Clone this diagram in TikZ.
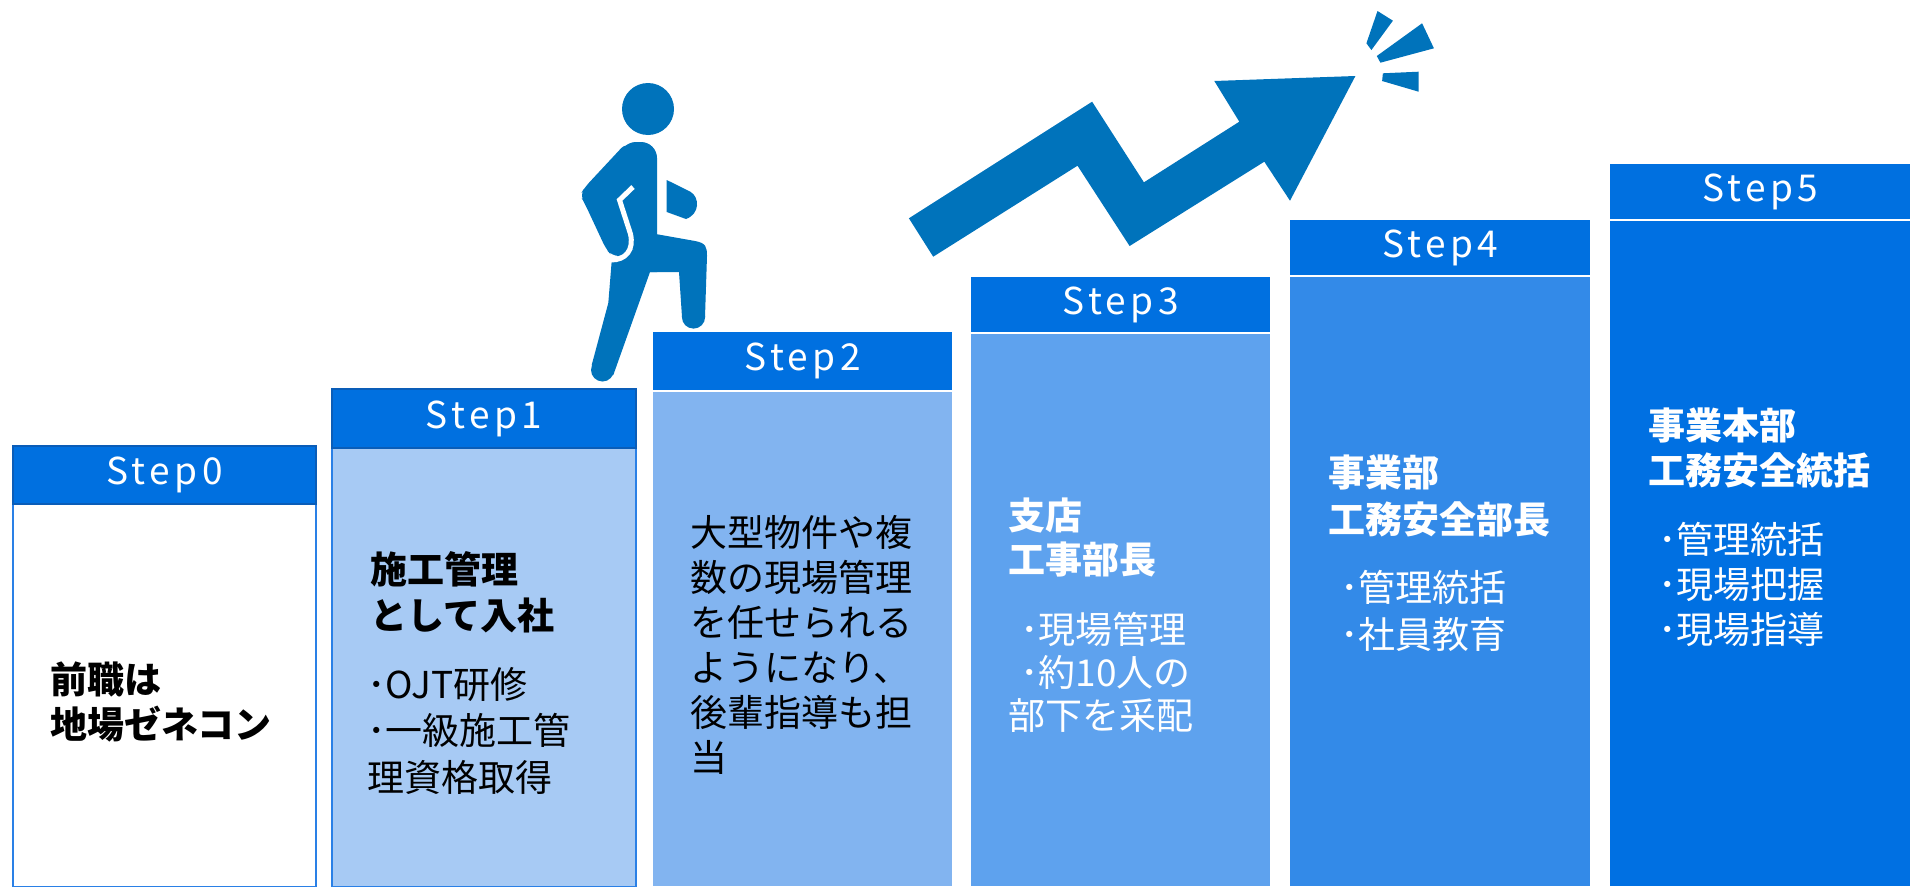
\documentclass[tikz,border=0pt]{standalone}
\usepackage{fontspec}
\newfontfamily\jp{Noto Sans CJK JP}
\newfontfamily\jpstep[LetterSpace=12]{Noto Sans CJK JP}
\definecolor{hdr}{HTML}{0070E0}
\definecolor{hdrdark}{HTML}{0A5DB8}
\definecolor{edgeblue}{HTML}{2A80E6}
\definecolor{cA}{HTML}{A7CAF4}
\definecolor{cB}{HTML}{82B4F0}
\definecolor{cC}{HTML}{5EA2EE}
\definecolor{cD}{HTML}{338AE8}
\definecolor{cE}{HTML}{0070E2}
\definecolor{icon}{HTML}{0073BB}
\tikzset{
  hdrbox/.style={fill=hdr, inner sep=0pt, anchor=north west, text=white,
    font=\jpstep\fontsize{37}{40}\selectfont},
  bodybox/.style={inner sep=0pt, anchor=north west},
  txt/.style={anchor=base west, inner sep=0pt, font=\jp\fontsize{37}{45}\selectfont},
  iconfill/.style={fill=icon, draw=none}
}
\begin{document}
\begin{tikzpicture}[x=1pt, y=-1pt]
\useasboundingbox (0,0) rectangle (1910,886);
\fill[white] (0,0) rectangle (1910,886);

% ---- Step0
\node[bodybox, fill=white, draw=edgeblue, line width=2pt, minimum width=303pt, minimum height=383pt] (b0) at (12,503) {};
\node[hdrbox, draw=hdrdark, line width=2pt, minimum width=303pt, minimum height=58pt] (h0) at (12,445) {Step0};
% ---- Step1
\node[bodybox, fill=cA, draw=edgeblue, line width=2pt, minimum width=304pt, minimum height=439pt] (b1) at (331,447) {};
\node[hdrbox, draw=hdrdark, line width=2pt, minimum width=304pt, minimum height=59pt] (h1) at (331,388) {Step1};
% ---- Step2
\node[bodybox, fill=cB, minimum width=299pt, minimum height=494pt] (b2) at (653,392) {};
\node[hdrbox, minimum width=299pt, minimum height=58pt] (h2) at (653,332) {Step2};
% ---- Step3
\node[bodybox, fill=cC, minimum width=299pt, minimum height=552pt] (b3) at (971,334) {};
\node[hdrbox, minimum width=299pt, minimum height=55pt] (h3) at (971,277) {Step3};
% ---- Step4
\node[bodybox, fill=cD, minimum width=300pt, minimum height=609pt] (b4) at (1290,277) {};
\node[hdrbox, minimum width=300pt, minimum height=55pt] (h4) at (1290,220) {Step4};
% ---- Step5
\node[bodybox, fill=cE, minimum width=300pt, minimum height=665pt] (b5) at (1610,221) {};
\node[hdrbox, minimum width=300pt, minimum height=55pt] (h5) at (1610,164) {Step5};

% ---- texts
\node[txt, font=\jp\bfseries\fontsize{37}{45}\selectfont] (t0) at (50,693)
  {\vtop{\hbox{前職は}\hbox{地場ゼネコン}}};

\node[txt, font=\jp\bfseries\fontsize{37}{46}\selectfont] (t1a) at (370,583)
  {\vtop{\hbox{施工管理}\hbox{として入社}}};
\node[txt, font=\jp\fontsize{37}{46.5}\selectfont] (t1b) at (367,698)
  {\vtop{\hbox{･OJT研修}\hbox{･一級施工管}\hbox{理資格取得}}};

\node[txt] (t2) at (690,546)
  {\vtop{\hbox{大型物件や複}\hbox{数の現場管理}\hbox{を任せられる}\hbox{ようになり、}\hbox{後輩指導も担}\hbox{当}}};

\node[txt, text=white, font=\jp\bfseries\fontsize{37}{44}\selectfont] (t3a) at (1008,529)
  {\vtop{\hbox{支店}\hbox{工事部長}}};
\node[txt, text=white, font=\jp\fontsize{37}{43}\selectfont] (t3b) at (1008,643)
  {\vtop{\hbox{\hspace{12pt}･現場管理}\hbox{\hspace{12pt}･約10人の}\hbox{部下を采配}}};

\node[txt, text=white, font=\jp\bfseries\fontsize{37}{47}\selectfont] (t4a) at (1328,486)
  {\vtop{\hbox{事業部}\hbox{工務安全部長}}};
\node[txt, text=white, font=\jp\fontsize{37}{47}\selectfont] (t4b) at (1340,601)
  {\vtop{\hbox{･管理統括}\hbox{･社員教育}}};

\node[txt, text=white, font=\jp\bfseries\fontsize{37}{45}\selectfont] (t5a) at (1648,439)
  {\vtop{\hbox{事業本部}\hbox{工務安全統括}}};
\node[txt, text=white, font=\jp\fontsize{37}{45}\selectfont] (t5b) at (1658,553)
  {\vtop{\hbox{･管理統括}\hbox{･現場把握}\hbox{･現場指導}}};

% ---- walking person
\fill[iconfill] (648,109) circle[radius=26];
\fill[iconfill, rounded corners=16pt] (620,250) -- (620,142) -- (657,142) -- (657,250) -- cycle;
\fill[iconfill, rounded corners=7pt] (626,143) -- (585,187) -- (580,195) -- (585,204) -- (606,249) -- (612,256) -- (624,256) -- (634,246) -- (640,200) -- (640,150) -- cycle;
\fill[iconfill] (611.7,261) -- (628,252) -- (657,240) -- (657,272) -- (650,272) -- (613.3,375) -- (591.7,365) -- (608.3,303) -- cycle;
\fill[iconfill] (602.5,370) circle[radius=11.5];
\fill[iconfill] (650,233) -- (695,241) .. controls (706,243) and (707,247) .. (707,256) -- (705,317) -- (682,317) -- (679,272) -- (650,272) -- cycle;
\fill[iconfill] (693.5,317) circle[radius=11.6];
\fill[iconfill] (666.7,180) -- (690,191.5) .. controls (700,197) and (700,214) .. (686,219) -- (666.7,212) -- cycle;
\draw[white, line width=5pt] (633,187) -- (619.5,200) -- (630.5,234) .. controls (634,250) and (626,260) .. (611,260);

% ---- zigzag arrow
\fill[iconfill] (908.9,218.3) -- (1092.1,101.7) -- (1143.9,182.3) -- (1239.3,121.7) -- (1214.3,81) -- (1355.4,76) -- (1290,200.7) -- (1264.3,161.7) -- (1129.6,246) -- (1077.5,165.7) -- (933.2,256.7) -- cycle;
% ---- sparks
\fill[iconfill] (1377.5,11) -- (1392.9,20.7) -- (1371.4,50) -- (1366.4,43.3) -- cycle;
\fill[iconfill] (1422.1,23.3) -- (1433.9,48.3) -- (1380.4,62.7) -- (1376.8,56) -- cycle;
\fill[iconfill] (1382.9,73.3) -- (1418.6,71.7) -- (1418.6,91.7) -- (1382.1,81) -- cycle;
\end{tikzpicture}
\end{document}
